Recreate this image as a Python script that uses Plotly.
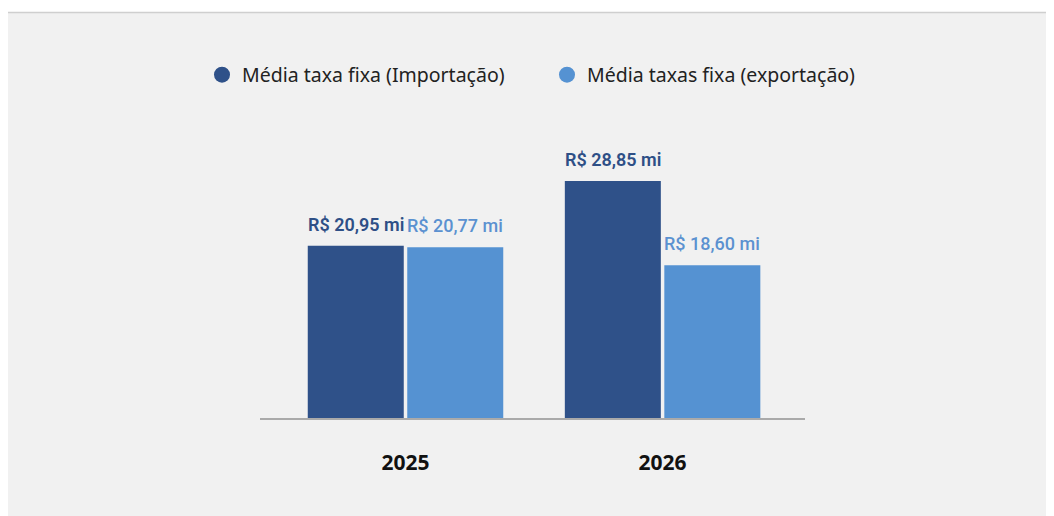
import plotly.graph_objects as go

years = ["2025", "2026"]
importacao = [20.95, 28.85]
exportacao = [20.77, 18.60]
label_imp = ["R$ 20,95 mi", "R$ 28,85 mi"]
label_exp = ["R$ 20,77 mi", "R$ 18,60 mi"]
series_names = ["Média taxa fixa (Importação)", "Média taxas fixa (exportação)"]

DARK = "#2f5189"
LIGHT = "#5592d2"
DARK_TXT = "#2e4f86"
LIGHT_TXT = "#5b91d0"
BG = "#f1f1f1"

fig = go.Figure()
fig.add_trace(go.Bar(x=years, y=importacao, marker=dict(color=DARK, line=dict(width=0)),
                     showlegend=False, name=series_names[0]))
fig.add_trace(go.Bar(x=years, y=exportacao, marker=dict(color=LIGHT, line=dict(width=0)),
                     showlegend=False, name=series_names[1]))
# legend entries with circular markers
fig.add_trace(go.Scatter(x=[None], y=[None], mode="markers", name=series_names[0],
                         marker=dict(symbol="circle", size=19, color=DARK)))
fig.add_trace(go.Scatter(x=[None], y=[None], mode="markers", name=series_names[1],
                         marker=dict(symbol="circle", size=19, color=LIGHT)))

L, R, T, B = 252, 257, 147, 106
PW, PH = 1054 - L - R, 516 - T - B
BARGAP = 0.226
SLOT = (PW / 2.12) * (1 - BARGAP) / 2  # pixel width of one bar slot


def px_x(x):
    return (x - L) / PW


def px_y(y):
    return (516 - B - y) / PH


for i, (v, t) in enumerate(zip(importacao, label_imp)):
    fig.add_annotation(x=i, y=v, xref="x", yref="y", text=t, showarrow=False,
                       xanchor="center", yanchor="bottom", xshift=-SLOT / 2, yshift=9,
                       font=dict(family="Roboto", size=18, color=DARK_TXT, weight=600))
for i, (v, t) in enumerate(zip(exportacao, label_exp)):
    fig.add_annotation(x=i, y=v, xref="x", yref="y", text=t, showarrow=False,
                       xanchor="center", yanchor="bottom", xshift=SLOT / 2, yshift=9,
                       font=dict(family="Roboto", size=18, color=LIGHT_TXT, weight=500))

fig.update_layout(
    width=1054, height=516,
    margin=dict(l=L, r=R, t=T, b=B, pad=0),
    paper_bgcolor=BG,
    plot_bgcolor="rgba(0,0,0,0)",
    barmode="group", bargap=BARGAP, bargroupgap=0.035,
    font=dict(family="Noto Sans", color="#222222"),
    legend=dict(orientation="h", x=px_x(194), xanchor="left",
                y=px_y(67), yanchor="middle",
                font=dict(family="Noto Sans", size=19.5, color="#222222"),
                bgcolor="rgba(0,0,0,0)", itemwidth=30,
                entrywidth=300, entrywidthmode="pixels"),
    xaxis=dict(type="category", range=[-0.566, 1.554], showgrid=False, zeroline=False,
               showline=True, linecolor="#aaaaaa", linewidth=2,
               ticks="", ticklabelstandoff=25,
               tickfont=dict(family="Noto Sans", size=21, color="#111111", weight="bold")),
    yaxis=dict(range=[0, 32.0], visible=False, showgrid=False, zeroline=False),
    shapes=[
        dict(type="rect", xref="paper", yref="paper",
             x0=px_x(-10), x1=px_x(1070),
             y0=px_y(4), y1=px_y(-10),
             fillcolor="white", line=dict(width=0), layer="below"),
        dict(type="line", xref="paper", yref="paper",
             x0=px_x(-10), x1=px_x(1070),
             y0=px_y(4.5), y1=px_y(4.5),
             line=dict(color="#cfcfcf", width=1.5), layer="below"),
    ],
)
fig.write_html("out.html")
